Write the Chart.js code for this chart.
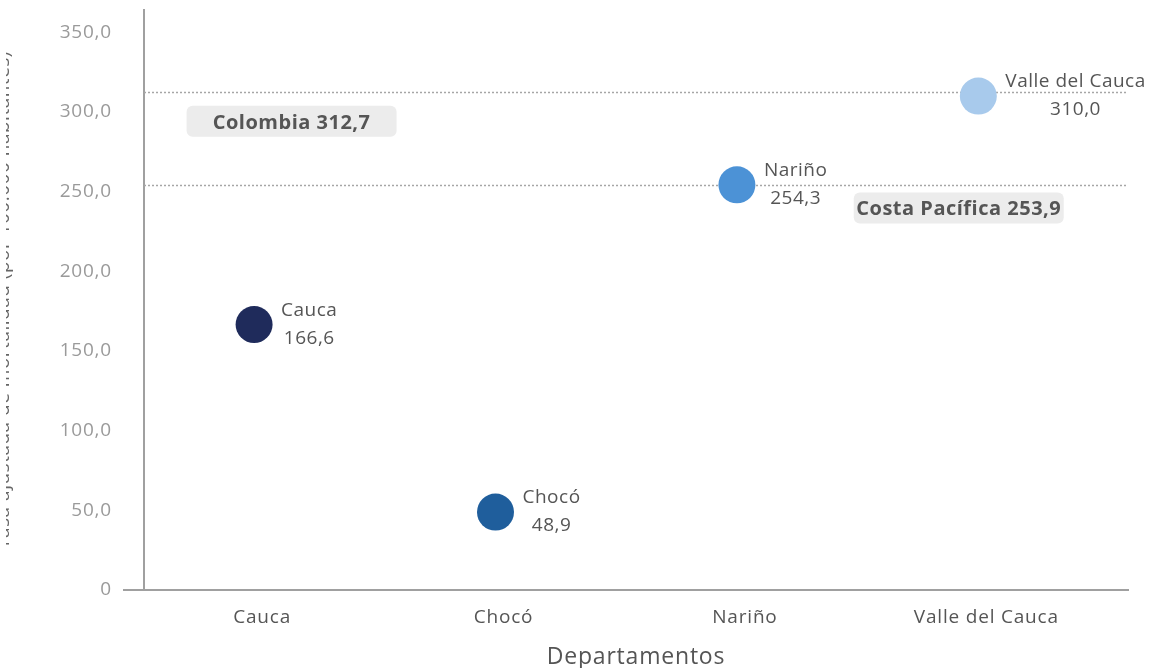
<!DOCTYPE html>
<html>
<head>
<meta charset="utf-8">
<script src="https://cdn.jsdelivr.net/npm/chart.js@4.4.1/dist/chart.umd.min.js"></script>
<style>
  html,body{margin:0;padding:0;background:#fff;}
  #wrap{width:1155px;height:668px;position:relative;}
</style>
</head>
<body>
<div id="wrap"><canvas id="chart" width="1155" height="668"></canvas></div>
<script>
// datos por departamento
const departamentos = ['Cauca', 'Chocó', 'Nariño', 'Valle del Cauca'];
const tasas = [166.6, 48.9, 254.3, 310.0];
const colores = ['#1f2b5b', '#1f5e9c', '#4c92d6', '#a8caec'];

// lineas de referencia
const refNombres = ['Colombia', 'Costa Pacífica'];
const refValores = [312.7, 253.9];
const refCajaX = [0.15, 0.828]; // posicion relativa de la caja dentro del area
const refCajaDy = [14, 7];      // separacion caja-linea en px

const yTicks = [0, 50, 100, 150, 200, 250, 300, 350];
const yTitulo = 'Tasa ajustada de mortalidad (por 100.000 habitantes)';

const FONT = '"Open Sans", Lato, sans-serif';
function coma(v){ return v.toFixed(1).replace('.', ','); }

// espaciado de letras un poco mas ancho (la fuente original es mas ancha)
const espaciado = {
  id: 'espaciado',
  beforeDraw(chart){ chart.ctx.letterSpacing = '0.8px'; }
};

// lineas punteadas + cajas de etiqueta
const refPlugin = {
  id: 'refLines',
  beforeDatasetsDraw(chart){
    const {ctx, chartArea, scales:{y}} = chart;
    ctx.save();
    ctx.strokeStyle = '#a6a6a6';
    ctx.lineWidth = 1.5;
    ctx.setLineDash([2, 2]);
    refValores.forEach(v=>{
      const py = Math.round(y.getPixelForValue(v)) + 0.5;
      ctx.beginPath();
      ctx.moveTo(chartArea.left, py);
      ctx.lineTo(chartArea.right, py);
      ctx.stroke();
    });
    ctx.restore();
  },
  afterDatasetsDraw(chart){
    const {ctx, chartArea, scales:{y}} = chart;
    ctx.save();
    ctx.font = 'bold 20px ' + FONT;
    ctx.letterSpacing = '0.5px';
    refValores.forEach((v,i)=>{
      const txt = refNombres[i] + ' ' + coma(v);
      const w = 210, h = 31;
      const cx = chartArea.left + refCajaX[i]*(chartArea.right - chartArea.left);
      const top = y.getPixelForValue(v) + refCajaDy[i];
      ctx.fillStyle = '#ececec';
      ctx.beginPath();
      ctx.roundRect(cx - w/2, top, w, h, 6);
      ctx.fill();
      ctx.fillStyle = '#555555';
      ctx.textAlign = 'center';
      ctx.textBaseline = 'alphabetic';
      ctx.fillText(txt, cx, top + 23);
    });
    ctx.restore();
  }
};

// nombre y valor junto a cada burbuja
const etiquetasPlugin = {
  id: 'etiquetas',
  afterDatasetsDraw(chart){
    const {ctx} = chart;
    const meta = chart.getDatasetMeta(0);
    ctx.save();
    ctx.font = '19px ' + FONT;
    ctx.letterSpacing = '0.5px';
    ctx.fillStyle = '#555555';
    ctx.textAlign = 'center';
    ctx.textBaseline = 'alphabetic';
    meta.data.forEach((pt,i)=>{
      const l1 = departamentos[i], l2 = coma(tasas[i]);
      const w = Math.max(ctx.measureText(l1).width, ctx.measureText(l2).width);
      const cx = pt.x + 27 + w/2;
      ctx.fillText(l1, cx, pt.y - 9);
      ctx.fillText(l2, cx, pt.y + 19);
    });
    ctx.restore();
  }
};

// extension del eje x a la izquierda y titulo del eje y recortado
const ejesPlugin = {
  id: 'ejes',
  afterDraw(chart){
    const {ctx, chartArea} = chart;
    ctx.save();
    ctx.strokeStyle = '#a0a0a0';
    ctx.lineWidth = 2;
    ctx.beginPath();
    ctx.moveTo(123, chartArea.bottom);
    ctx.lineTo(chartArea.left, chartArea.bottom);
    ctx.stroke();
    // el titulo queda casi todo fuera del lienzo, como en el original
    ctx.beginPath();
    ctx.rect(6, 0, 10, chart.height);
    ctx.clip();
    ctx.translate(9, (chartArea.top + chartArea.bottom)/2);
    ctx.rotate(-Math.PI/2);
    ctx.font = '19px ' + FONT;
    ctx.letterSpacing = '0.5px';
    ctx.fillStyle = '#666666';
    ctx.textAlign = 'center';
    ctx.textBaseline = 'alphabetic';
    ctx.fillText(yTitulo, 0, 0);
    ctx.restore();
  }
};

new Chart(document.getElementById('chart'), {
  type: 'bubble',
  data: {
    datasets: [{
      data: tasas.map((v,i)=>({x:i, y:v, r:18.5})),
      backgroundColor: colores,
      borderWidth: 0,
      hoverRadius: 0
    }]
  },
  options: {
    responsive: false,
    animation: false,
    layout: {autoPadding: false, padding: {top: 10, right: 27, left: 0, bottom: 0}},
    plugins: {legend: {display: false}, tooltip: {enabled: false}},
    scales: {
      x: {
        type: 'linear',
        min: -0.456,
        max: 3.62,
        afterFit(s){ s.height = 78; },
        afterBuildTicks(s){ s.ticks = departamentos.map((d,i)=>({value:i})); },
        grid: {display: false},
        border: {display: true, color: '#a0a0a0', width: 2},
        ticks: {
          autoSkip: false,
          maxRotation: 0,
          padding: 8,
          labelOffset: 8,
          color: '#555555',
          font: {family: FONT, size: 19},
          callback: (v)=> departamentos[v]
        },
        title: {
          display: true,
          text: 'Departamentos',
          color: '#555555',
          font: {family: FONT, size: 23},
          padding: {top: 0, bottom: -3}
        }
      },
      y: {
        min: 0,
        max: 364,
        afterFit(s){ s.width = 144; s.paddingTop = 10; s.paddingBottom = 0; },
        afterBuildTicks(s){ s.ticks = yTicks.map(v=>({value:v})); },
        grid: {display: false, drawTicks: true, tickLength: 32},
        border: {display: true, color: '#a0a0a0', width: 2},
        ticks: {
          padding: 0,
          color: '#9a9a9a',
          font: {family: FONT, size: 19},
          callback: (v)=> v === 0 ? '0' : coma(v)
        }
      }
    }
  },
  plugins: [espaciado, refPlugin, etiquetasPlugin, ejesPlugin]
});
</script>
</body>
</html>
